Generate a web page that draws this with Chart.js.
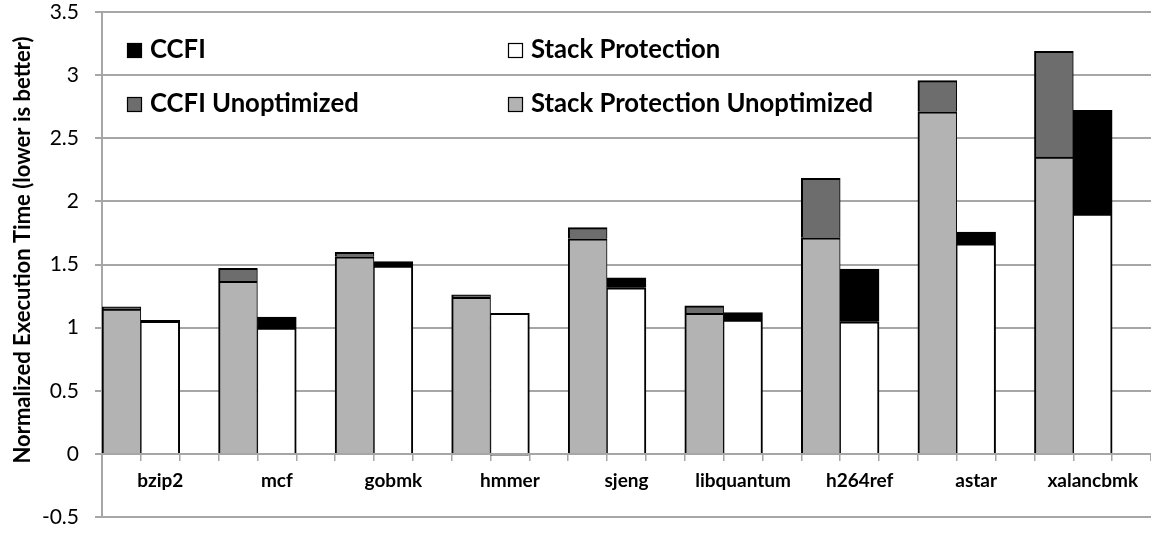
<!DOCTYPE html>
<html>
<head>
<meta charset="utf-8">
<script src="https://cdn.jsdelivr.net/npm/chart.js@4.4.1/dist/chart.umd.min.js"></script>
<style>
  html, body { margin: 0; padding: 0; background: #fff; }
  #wrap { width: 1151px; height: 533px; }
</style>
</head>
<body>
<div id="wrap"><canvas id="myChart"></canvas></div>
<script>
const benchmarks = ['bzip2', 'mcf', 'gobmk', 'hmmer', 'sjeng', 'libquantum', 'h264ref', 'astar', 'xalancbmk'];
// left bar of each pair
const stackUnopt = [1.146, 1.367, 1.561, 1.240, 1.703, 1.113, 1.712, 2.709, 2.350];
const ccfiUnopt  = [0.018, 0.102, 0.035, 0.019, 0.089, 0.060, 0.471, 0.248, 0.839];
// right bar of each pair
const stackProt  = [1.050, 0.997, 1.488, 1.113, 1.315, 1.059, 1.046, 1.663, 1.900];
const ccfi       = [0.007, 0.087, 0.035, -0.012, 0.079, 0.060, 0.418, 0.094, 0.822];
const yTicks = [-0.5, 0, 0.5, 1, 1.5, 2, 2.5, 3, 3.5];
const yTitle = 'Normalized Execution Time (lower is better)';

Chart.defaults.font.family = 'Lato';
Chart.defaults.color = '#000';

// excel layout: every benchmark gets 3 slots (left bar, right bar, gap)
function slots(values, pos) {
  const out = [];
  values.forEach(v => { for (let k = 0; k < 3; k++) out.push(k === pos ? v : null); });
  return out;
}
const labels = [];
benchmarks.forEach(b => labels.push('', b, ''));

const leftBorder = {top: 2, left: 2, right: 1, bottom: 0};
const rightBorder = {top: 2, left: 1, right: 2, bottom: 0};

const legendSpots = {
  'CCFI': [127, 50],
  'Stack Protection': [508, 50],
  'CCFI Unoptimized': [127, 104],
  'Stack Protection Unoptimized': [508, 104]
};

const paperLegend = {
  id: 'paperLegend',
  afterDraw(chart) {
    const ctx = chart.ctx;
    ctx.save();
    ctx.font = 'bold 25.7px Lato';
    ctx.textBaseline = 'middle';
    chart.data.datasets.forEach(ds => {
      const [x, y] = legendSpots[ds.label];
      ctx.fillStyle = ds.backgroundColor;
      ctx.fillRect(x, y - 7, 15, 15);
      ctx.strokeStyle = '#000';
      ctx.lineWidth = 1.2;
      ctx.strokeRect(x + 0.5, y - 6.5, 14, 14);
      ctx.fillStyle = '#000';
      ctx.fillText(ds.label, x + 23, y);
    });
    // y axis title
    ctx.translate(23, 250);
    ctx.rotate(-Math.PI / 2);
    ctx.textAlign = 'center';
    ctx.font = 'bold 22px Lato';
    ctx.fillText(yTitle, 0, 0);
    ctx.restore();
  }
};

const ctx = document.getElementById('myChart');
new Chart(ctx, {
  type: 'bar',
  data: {
    labels: labels,
    datasets: [
      { label: 'Stack Protection Unoptimized', data: slots(stackUnopt, 0), backgroundColor: '#b3b3b3', borderColor: '#000', borderWidth: leftBorder },
      { label: 'CCFI Unoptimized', data: slots(ccfiUnopt, 0), backgroundColor: '#6d6d6d', borderColor: '#000', borderWidth: leftBorder },
      { label: 'Stack Protection', data: slots(stackProt, 1), backgroundColor: '#ffffff', borderColor: '#000', borderWidth: rightBorder },
      { label: 'CCFI', data: slots(ccfi, 1), backgroundColor: '#000000', borderColor: '#000', borderWidth: rightBorder }
    ]
  },
  options: {
    responsive: true,
    maintainAspectRatio: false,
    animation: false,
    barPercentage: 1,
    categoryPercentage: 1,
    layout: { padding: { top: 12, left: 0, right: 0, bottom: 16 } },
    plugins: {
      legend: { display: false },
      tooltip: { enabled: false }
    },
    scales: {
      x: {
        stacked: true,
        position: { y: 0 },
        offset: true,
        grid: { drawOnChartArea: false, drawTicks: true, tickLength: 6, color: '#a6a6a6', lineWidth: 1.5, offset: true },
        border: { color: '#a6a6a6', width: 2 },
        ticks: { autoSkip: false, maxRotation: 0, minRotation: 0, padding: 10, color: '#000', font: { weight: 'bold', size: 19 } },
        afterFit: s => { s.height = 0; s.paddingLeft = 0; s.paddingRight = 0; }
      },
      y: {
        stacked: true,
        min: -0.5,
        max: 3.5,
        afterBuildTicks: a => { a.ticks = yTicks.map(v => ({ value: v })); },
        grid: { color: '#a6a6a6', lineWidth: 2, tickLength: 7 },
        border: { color: '#a6a6a6', width: 2 },
        ticks: { padding: 16, color: '#000', font: { size: 21 }, callback: v => String(v) },
        afterFit: s => { s.width = 102; s.paddingTop = 0; s.paddingBottom = 0; }
      }
    }
  },
  plugins: [paperLegend]
});
</script>
</body>
</html>
